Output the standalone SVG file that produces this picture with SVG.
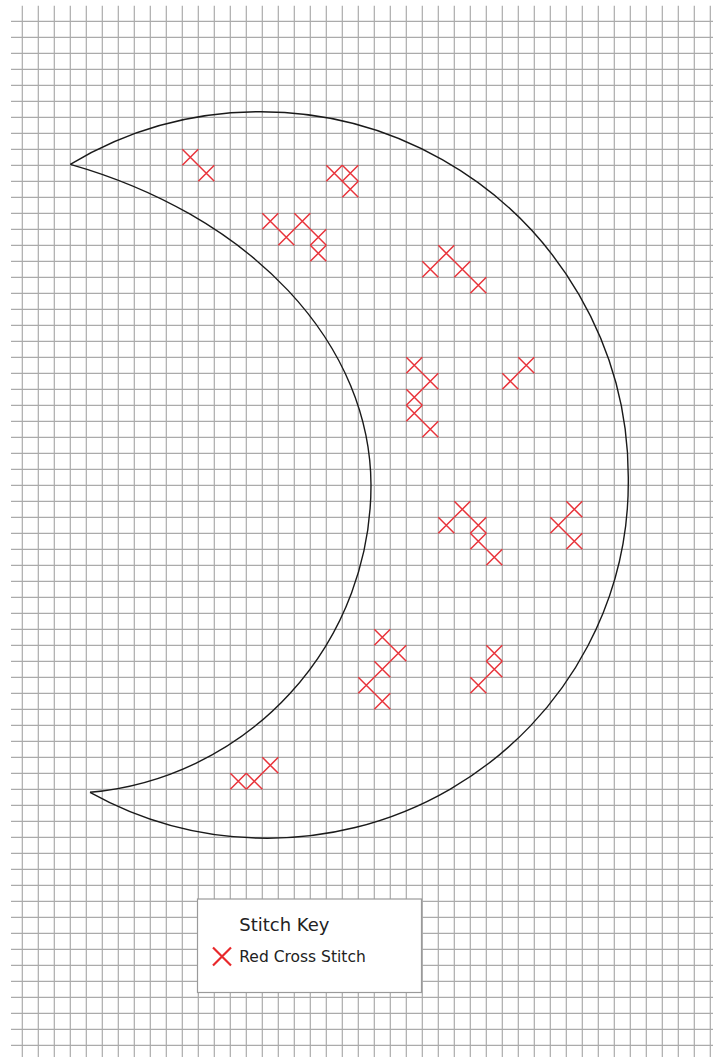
<svg xmlns="http://www.w3.org/2000/svg" xmlns:xlink="http://www.w3.org/1999/xlink" width="713" height="1057" viewBox="0 0 713 1057">
<style>
.grid{stroke:#ababab;stroke-width:1.2;fill:none}
.stitch{stroke:#e8333a;stroke-width:1.5;fill:none}
.moon{stroke:#1a1a1a;stroke-width:1.4;fill:none}
.keybox{fill:#ffffff;stroke:#9a9a9a;stroke-width:1.2}
.keytitle{font-family:"DejaVu Sans",sans-serif;font-size:18px;fill:#222}
.keytext{font-family:"DejaVu Sans",sans-serif;font-size:15.5px;fill:#222}
</style>
<defs>
<path id="x" d="M0 0L16 16M16 0L0 16"/>
</defs>
<rect width="713" height="1057" fill="#ffffff"/>
<g id="grid" class="grid">
<path d="M11 21.3H713M11 37.3H713M11 53.3H713M11 69.3H713M11 85.3H713M11 101.3H713M11 117.3H713M11 133.3H713M11 149.3H713M11 165.3H713M11 181.3H713M11 197.3H713M11 213.3H713M11 229.3H713M11 245.3H713M11 261.3H713M11 277.3H713M11 293.3H713M11 309.3H713M11 325.3H713M11 341.3H713M11 357.3H713M11 373.3H713M11 389.3H713M11 405.3H713M11 421.3H713M11 437.3H713M11 453.3H713M11 469.3H713M11 485.3H713M11 501.3H713M11 517.3H713M11 533.3H713M11 549.3H713M11 565.3H713M11 581.3H713M11 597.3H713M11 613.3H713M11 629.3H713M11 645.3H713M11 661.3H713M11 677.3H713M11 693.3H713M11 709.3H713M11 725.3H713M11 741.3H713M11 757.3H713M11 773.3H713M11 789.3H713M11 805.3H713M11 821.3H713M11 837.3H713M11 853.3H713M11 869.3H713M11 885.3H713M11 901.3H713M11 917.3H713M11 933.3H713M11 949.3H713M11 965.3H713M11 981.3H713M11 997.3H713M11 1013.3H713M11 1029.3H713M11 1045.3H713"/>
<path d="M22.3 5.7V1057M38.3 5.7V1057M54.3 5.7V1057M70.3 5.7V1057M86.3 5.7V1057M102.3 5.7V1057M118.3 5.7V1057M134.3 5.7V1057M150.3 5.7V1057M166.3 5.7V1057M182.3 5.7V1057M198.3 5.7V1057M214.3 5.7V1057M230.3 5.7V1057M246.3 5.7V1057M262.3 5.7V1057M278.3 5.7V1057M294.3 5.7V1057M310.3 5.7V1057M326.3 5.7V1057M342.3 5.7V1057M358.3 5.7V1057M374.3 5.7V1057M390.3 5.7V1057M406.3 5.7V1057M422.3 5.7V1057M438.3 5.7V1057M454.3 5.7V1057M470.3 5.7V1057M486.3 5.7V1057M502.3 5.7V1057M518.3 5.7V1057M534.3 5.7V1057M550.3 5.7V1057M566.3 5.7V1057M582.3 5.7V1057M598.3 5.7V1057M614.3 5.7V1057M630.3 5.7V1057M646.3 5.7V1057M662.3 5.7V1057M678.3 5.7V1057M694.3 5.7V1057M710.3 5.7V1057"/>
</g>
<g id="moon" class="moon">
<path d="M70.3 164.3A368 366 0 0 1 628.3 480A361 356 0 0 1 90 792.3"/>
<path d="M70.3 164.3A471 345 0 0 1 371 485A308.5 308.5 0 0 1 90 792.3"/>
</g>
<g id="stitches" class="stitch">
<use xlink:href="#x" x="182.3" y="149.3"/>
<use xlink:href="#x" x="198.3" y="165.3"/>
<use xlink:href="#x" x="326.3" y="165.3"/>
<use xlink:href="#x" x="342.3" y="165.3"/>
<use xlink:href="#x" x="342.3" y="181.3"/>
<use xlink:href="#x" x="262.3" y="213.3"/>
<use xlink:href="#x" x="278.3" y="229.3"/>
<use xlink:href="#x" x="294.3" y="213.3"/>
<use xlink:href="#x" x="310.3" y="229.3"/>
<use xlink:href="#x" x="310.3" y="245.3"/>
<use xlink:href="#x" x="438.3" y="245.3"/>
<use xlink:href="#x" x="422.3" y="261.3"/>
<use xlink:href="#x" x="454.3" y="261.3"/>
<use xlink:href="#x" x="470.3" y="277.3"/>
<use xlink:href="#x" x="406.3" y="357.3"/>
<use xlink:href="#x" x="422.3" y="373.3"/>
<use xlink:href="#x" x="406.3" y="389.3"/>
<use xlink:href="#x" x="406.3" y="405.3"/>
<use xlink:href="#x" x="422.3" y="421.3"/>
<use xlink:href="#x" x="502.3" y="373.3"/>
<use xlink:href="#x" x="518.3" y="357.3"/>
<use xlink:href="#x" x="438.3" y="517.3"/>
<use xlink:href="#x" x="454.3" y="501.3"/>
<use xlink:href="#x" x="470.3" y="517.3"/>
<use xlink:href="#x" x="470.3" y="533.3"/>
<use xlink:href="#x" x="486.3" y="549.3"/>
<use xlink:href="#x" x="550.3" y="517.3"/>
<use xlink:href="#x" x="566.3" y="501.3"/>
<use xlink:href="#x" x="566.3" y="533.3"/>
<use xlink:href="#x" x="374.3" y="629.3"/>
<use xlink:href="#x" x="390.3" y="645.3"/>
<use xlink:href="#x" x="374.3" y="661.3"/>
<use xlink:href="#x" x="358.3" y="677.3"/>
<use xlink:href="#x" x="374.3" y="693.3"/>
<use xlink:href="#x" x="486.3" y="645.3"/>
<use xlink:href="#x" x="486.3" y="661.3"/>
<use xlink:href="#x" x="470.3" y="677.3"/>
<use xlink:href="#x" x="230.3" y="773.3"/>
<use xlink:href="#x" x="246.3" y="773.3"/>
<use xlink:href="#x" x="262.3" y="757.3"/>
</g>
<g id="key">
<rect class="keybox" x="197.5" y="899" width="224" height="93.5"/>
<text class="keytitle" x="239.3" y="930.5">Stitch Key</text>
<path d="M213 947.5L231 965.5M231 947.5L213 965.5" stroke="#e8282b" stroke-width="2.2" fill="none"/>
<text class="keytext" x="239.3" y="962.3">Red Cross Stitch</text>
</g>
</svg>
